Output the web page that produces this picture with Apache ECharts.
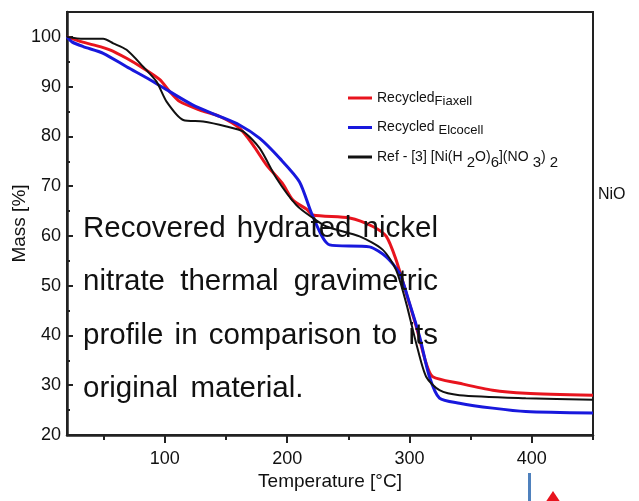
<!DOCTYPE html>
<html>
<head>
<meta charset="utf-8">
<script src="https://cdn.jsdelivr.net/npm/echarts@6/dist/echarts.min.js"></script>
<style>
html,body{margin:0;padding:0;background:#fff;}
#chart{width:639px;height:501px;}
</style>
</head>
<body>
<div id="chart"></div>
<script>
// ---- data ----
var seriesNames = ['RecycledFiaxell', 'Recycled Elcocell', 'Ref'];

var fiaxellT = [20, 30.6, 41.5, 55, 68.7, 82.3, 95.9, 104, 112.2, 128.6, 144.9, 161.2, 172, 183, 196, 204.7, 215.7, 221, 251, 270, 281, 289, 297.3, 305.5, 313.6, 319, 340.8, 368, 395, 450];
var fiaxellM = [100, 99.1, 98.4, 97.4, 95.7, 93.7, 91.4, 89.0, 87.0, 85.3, 84.0, 81.6, 78.3, 74.3, 70.6, 67.2, 65.4, 64.2, 63.6, 61.9, 59.9, 55.2, 48.5, 41.8, 34.4, 31.7, 30.4, 29.0, 28.4, 28.0];

var elcocellT = [20, 24, 33.3, 49.6, 68.7, 87.8, 104, 123, 142, 161, 177.6, 193.9, 210, 221, 234.7, 267.3, 281, 291.8, 300, 308.2, 316.3, 324.5, 340.8, 368, 395, 450];
var elcocellM = [100, 99.0, 98.05, 96.7, 94.0, 91.4, 89.0, 86.3, 84.3, 82.3, 79.6, 75.6, 70.9, 63.9, 58.2, 57.8, 55.8, 52.5, 46.5, 39.8, 31.7, 27.4, 26.4, 25.4, 24.7, 24.4];

var refT = [20, 33.3, 49.6, 57.8, 68.7, 82.3, 93.2, 101.4, 115, 131.3, 150.4, 163.9, 177.6, 191.2, 207.5, 221, 232, 259.2, 278.2, 289, 297.3, 305.5, 313.6, 324.5, 340.8, 395, 450];
var refM = [100, 99.6, 99.6, 98.7, 97.4, 94.0, 91.0, 87.0, 83.3, 83.0, 82.0, 81.0, 77.6, 71.6, 66.2, 63.6, 61.9, 59.9, 57.2, 53.2, 46.5, 38.4, 31.7, 29.0, 28.0, 27.4, 27.1];

var xMajorTicks = [100, 200, 300, 400];
var xMinorTicks = [50, 150, 250, 350, 450];
var yMajorTicks = [20, 30, 40, 50, 60, 70, 80, 90, 100];
var yMinorTicks = [25, 35, 45, 55, 65, 75, 85, 95];

var annotationLines = [
  'Recovered hydrated nickel',
  'nitrate thermal gravimetric',
  'profile in comparison to its',
  'original material.'
];
var sideLabel = 'NiO';

// ---- helpers ----
function pairs(xs, ys) { return xs.map(function (x, i) { return [x, ys[i]]; }); }
var FONT = '"Liberation Sans", Arial, Helvetica, sans-serif';

var chart = echarts.init(document.getElementById('chart'), null, {renderer: 'canvas'});

// justified annotation text
var annFont = 29.5;
var ctx = document.createElement('canvas').getContext('2d');
ctx.font = annFont + 'px ' + FONT;
var annLeft = 83, annRight = 438, annBase0 = 239, annStep = 53.3;
var graphics = [];
annotationLines.forEach(function (line, li) {
  var words = line.split(' ');
  var widths = words.map(function (w) { return ctx.measureText(w).width; });
  var total = widths.reduce(function (a, b) { return a + b; }, 0);
  var last = li === annotationLines.length - 1;
  var gap = last ? ctx.measureText(' ').width * 1.5 : (annRight - annLeft - total) / (words.length - 1);
  var x = annLeft;
  words.forEach(function (w, wi) {
    graphics.push({
      type: 'text', x: x, y: annBase0 + li * annStep - 10, z: 100,
      style: {text: w, fontSize: annFont, fontFamily: FONT, fill: '#111', align: 'left', verticalAlign: 'middle'}
    });
    x += widths[wi] + gap;
  });
});
graphics.push({type: 'text', x: 598, y: 195, z: 100,
  style: {text: sideLabel, fontSize: 16, fontFamily: FONT, fill: '#111', align: 'left', verticalAlign: 'middle'}});
graphics.push({type: 'rect', shape: {x: 528, y: 473, width: 3, height: 30}, style: {fill: '#4f81bd'}});
graphics.push({type: 'polygon', shape: {points: [[553, 491], [545, 503], [561, 503]]}, style: {fill: '#e8141e'}});

var axisColor = '#222';
var option = {
  backgroundColor: '#fff',
  animation: false,
  grid: {left: 67, right: 46, top: 12, bottom: 66, show: true, borderColor: axisColor, borderWidth: 2,
    containLabel: false, outerBoundsMode: 'none'},
  legend: {
    orient: 'vertical', left: 343, top: 86, itemWidth: 24, itemHeight: 3, itemGap: 13,
    icon: 'rect', selectedMode: false,
    data: seriesNames,
    formatter: function (name) {
      if (name === 'RecycledFiaxell') return '{n|Recycled}{s|Fiaxell}';
      if (name === 'Recycled Elcocell') return '{n|Recycled }{s|Elcocell}';
      return '{n|Ref - [3] [Ni(H}{d| 2}{n|O)}{d|6}{n|](NO}{d| 3}{n|)}{d| 2}';
    },
    textStyle: {
      fontFamily: FONT, fontSize: 14, color: '#111',
      rich: {
        n: {fontFamily: FONT, fontSize: 14, color: '#111', padding: [5, 0, 5, 0]},
        s: {fontFamily: FONT, fontSize: 13, color: '#111', padding: [8, 0, 2, 0]},
        d: {fontFamily: FONT, fontSize: 15, color: '#111', padding: [12, 0, 0, 0]}
      }
    }
  },
  xAxis: [{
    type: 'value', min: 20, max: 450, position: 'bottom',
    name: 'Temperature [°C]', nameLocation: 'middle', nameGap: 37, nameMoveOverlap: false,
    nameTextStyle: {fontFamily: FONT, fontSize: 19, color: '#111'},
    axisLine: {show: true, onZero: false, lineStyle: {color: axisColor, width: 2.5}},
    axisTick: {show: true, customValues: xMajorTicks, length: 8, lineStyle: {color: axisColor, width: 2}},
    axisLabel: {customValues: xMajorTicks, fontFamily: FONT, fontSize: 18, color: '#111', margin: 15},
    splitLine: {show: false}
  }, {
    type: 'value', min: 20, max: 450, position: 'bottom',
    axisLine: {show: false},
    axisTick: {show: true, customValues: xMinorTicks, length: 5, lineStyle: {color: axisColor, width: 2}},
    axisLabel: {show: false},
    splitLine: {show: false}
  }],
  yAxis: [{
    type: 'value', min: 20, max: 105, position: 'left',
    name: 'Mass [%]', nameLocation: 'middle', nameGap: 38, nameMoveOverlap: false,
    nameTextStyle: {fontFamily: FONT, fontSize: 19, color: '#111'},
    axisLine: {show: true, onZero: false, lineStyle: {color: axisColor, width: 2.5}},
    axisTick: {show: true, inside: true, customValues: yMajorTicks, length: 6, lineStyle: {color: axisColor, width: 2}},
    axisLabel: {customValues: yMajorTicks, fontFamily: FONT, fontSize: 18, color: '#111', margin: 6},
    splitLine: {show: false}
  }, {
    type: 'value', min: 20, max: 105, position: 'left',
    axisLine: {show: false},
    axisTick: {show: true, inside: true, customValues: yMinorTicks, length: 3, lineStyle: {color: axisColor, width: 2}},
    axisLabel: {show: false},
    splitLine: {show: false}
  }],
  series: [{
    name: seriesNames[0], type: 'line', data: pairs(fiaxellT, fiaxellM), showSymbol: false, symbol: 'none',
    smooth: 0.25, color: '#e8141e', lineStyle: {color: '#e8141e', width: 3}
  }, {
    name: seriesNames[1], type: 'line', data: pairs(elcocellT, elcocellM), showSymbol: false, symbol: 'none',
    smooth: 0.25, color: '#1818dd', lineStyle: {color: '#1818dd', width: 3}
  }, {
    name: seriesNames[2], type: 'line', data: pairs(refT, refM), showSymbol: false, symbol: 'none',
    smooth: 0.25, color: '#111', lineStyle: {color: '#111', width: 2}
  }],
  graphic: graphics
};
chart.setOption(option);
</script>
</body>
</html>
